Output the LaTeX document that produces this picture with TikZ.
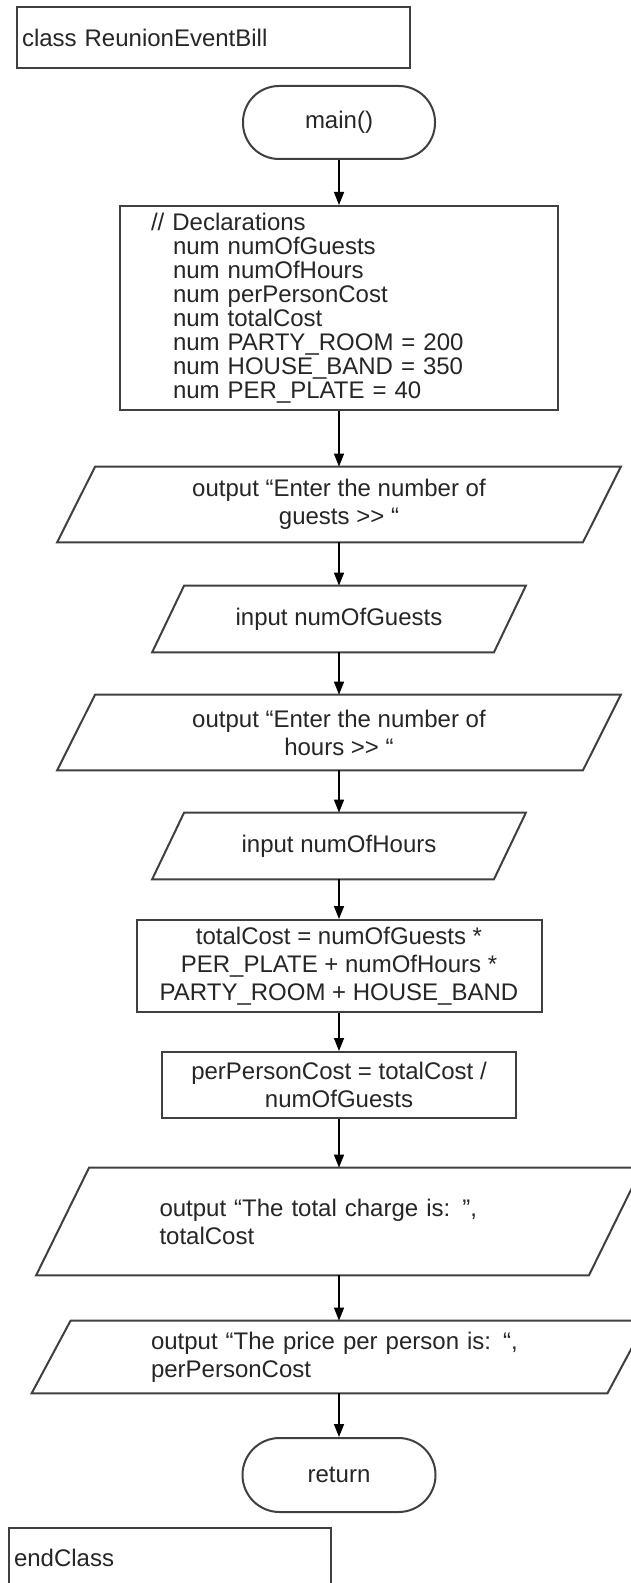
\documentclass[tikz,border=0pt]{standalone}
\usepackage{fontspec}
\setmainfont{Liberation Sans}
\usetikzlibrary{arrows.meta}
\newcommand{\drawpara}[2]{\draw[pline] ([xshift=-#2]#1.south west) -- ([xshift=#2]#1.north west) -- ([xshift=#2]#1.north east) -- ([xshift=-#2]#1.south east) -- cycle;}
\begin{document}
\begin{tikzpicture}[x=0.5pt,y=-0.5pt,
  every node/.style={font=\fontsize{12}{14}\selectfont, text=black!85},
  box/.style={draw=black!75, line width=1pt, rectangle, inner sep=0pt, align=center},
  term/.style={box, rounded corners=18pt},
  io/.style={rectangle, inner sep=0pt, align=center},
  arr/.style={draw=black, line width=0.75pt, -{Triangle[length=6.5pt,width=5pt]}},
  pline/.style={draw=black!75, line width=1pt, line join=miter}
]
\path[use as bounding box] (0,0) rectangle (631,1583);
\fill[white] (0,0) rectangle (631,1583);
\clip (0,0) rectangle (631,1583);

\node[box, minimum width=196.5pt, minimum height=30.5pt, inner xsep=2.5pt, text width=191.5pt, align=left] (cls) at (213.5,37.5) {class ReunionEventBill};

\node[term, minimum width=96pt, minimum height=36.5pt] (main) at (339,122.5) {main()};

\node[box, minimum width=219pt, minimum height=102pt, inner xsep=15.5pt, text width=188pt, align=left, font=\fontsize{12}{12}\selectfont] (decl) at (339,308)
 {// Declarations\\
  \hspace*{11pt}num numOfGuests\\
  \hspace*{11pt}num numOfHours\\
  \hspace*{11pt}num perPersonCost\\
  \hspace*{11pt}num totalCost\\
  \hspace*{11pt}num PARTY\_ROOM = 200\\
  \hspace*{11pt}num HOUSE\_BAND = 350\\
  \hspace*{11pt}num PER\_PLATE = 40};

\node[io, minimum width=262.5pt, minimum height=37.5pt] (out1) at (339,504.5) {output “Enter the number of\\guests >{}> “};
\drawpara{out1}{9.5pt}

\node[io, minimum width=170.5pt, minimum height=33pt] (in1) at (339,619) {input numOfGuests};
\drawpara{in1}{8pt}

\node[io, minimum width=262.5pt, minimum height=37.5pt] (out2) at (339,732.5) {output “Enter the number of\\hours >{}> “};
\drawpara{out2}{9.5pt}

\node[io, minimum width=170.5pt, minimum height=33pt] (in2) at (339,846) {input numOfHours};
\drawpara{in2}{8pt}

\node[box, minimum width=202.5pt, minimum height=46pt] (tc) at (339,966) {totalCost = numOfGuests *\\PER\_PLATE + numOfHours *\\PARTY\_ROOM + HOUSE\_BAND};

\node[box, minimum width=177pt, minimum height=33pt] (pp) at (339,1085) {perPersonCost = totalCost /\\numOfGuests};

\node[io, minimum width=276pt, minimum height=53.5pt, inner xsep=48.25pt, text width=179.5pt, align=left] (out3) at (339,1221.5) {output “The total charge is: ”,\\totalCost};
\drawpara{out3}{13.25pt}

\node[io, minimum width=287.5pt, minimum height=36pt, inner xsep=49.75pt, text width=188pt, align=left] (out4) at (339,1357) {output “The price per person is: “,\\perPersonCost};
\drawpara{out4}{9.75pt}

\node[term, rounded corners=18.5pt, minimum width=96.5pt, minimum height=37pt] (ret) at (339,1475) {return};

\node[box, minimum width=161pt, minimum height=30pt, inner xsep=2.5pt, text width=156pt, align=left] (endc) at (170,1558) {endClass};

\draw[arr] (main.south) -- (decl.north);
\draw[arr] (decl.south) -- (out1.north);
\draw[arr] (out1.south) -- (in1.north);
\draw[arr] (in1.south) -- (out2.north);
\draw[arr] (out2.south) -- (in2.north);
\draw[arr] (in2.south) -- (tc.north);
\draw[arr] (tc.south) -- (pp.north);
\draw[arr] (pp.south) -- (out3.north);
\draw[arr] (out3.south) -- (out4.north);
\draw[arr] (out4.south) -- (ret.north);
\end{tikzpicture}
\end{document}
